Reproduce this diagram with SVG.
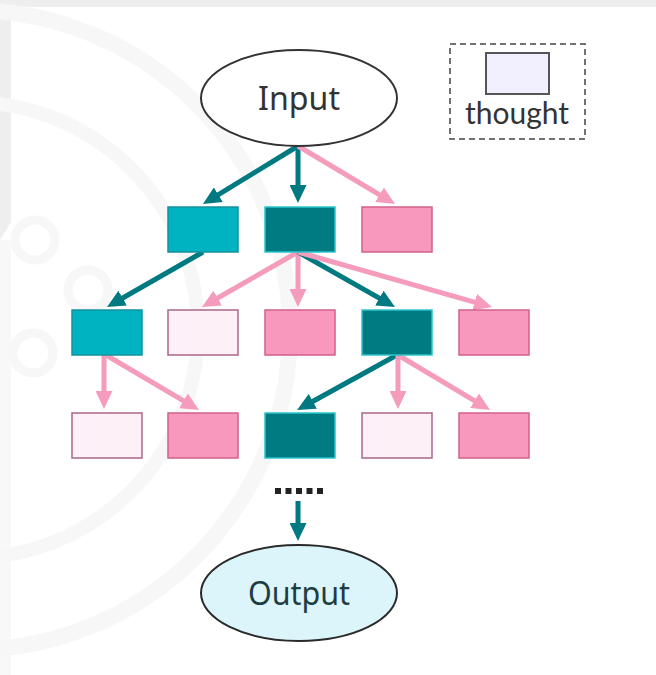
<svg xmlns="http://www.w3.org/2000/svg" width="656" height="675" viewBox="0 0 656 675">
  <style>
    .teal-line { stroke: #007a80; stroke-width: 5; fill: none; }
    .pink-line { stroke: #f59bbb; stroke-width: 5; fill: none; }
    .box { stroke-width: 1.5; }
    .cyan { fill: #00b3c1; stroke: #14929c; }
    .dark { fill: #007b82; stroke: #2cc3cc; }
    .pink { fill: #f998bd; stroke: #d2608a; }
    .light { fill: #fdf0f7; stroke: #a9678a; }
    .label { font-family: "Noto Sans", "Open Sans", "DejaVu Sans", sans-serif; font-size: 33px; text-anchor: middle; }
    .deco { fill: none; stroke: #f7f7f8; }
  </style>
  <defs>
    <marker id="head-teal" markerUnits="userSpaceOnUse" markerWidth="18" markerHeight="17" refX="8" refY="8.5" orient="auto">
      <path d="M0,0 L18,8.5 L0,17 Z" fill="#007a80"/>
    </marker>
    <marker id="head-pink" markerUnits="userSpaceOnUse" markerWidth="18" markerHeight="17" refX="8" refY="8.5" orient="auto">
      <path d="M0,0 L18,8.5 L0,17 Z" fill="#f59bbb"/>
    </marker>
  </defs>

  <!-- page background with soft frame and faint decorative arcs -->
  <g id="background">
    <rect x="0" y="0" width="656" height="675" fill="#ffffff"/>
    <rect x="0" y="0" width="656" height="7" fill="#eeeeee"/>
    <path d="M0,7 H11 V222 L0,240 Z" fill="#eeeeee"/>
    <rect x="0" y="240" width="11" height="435" fill="#f8f8f8"/>
    <circle class="deco" cx="-30" cy="330" r="320" stroke-width="16"/>
    <circle class="deco" cx="-30" cy="330" r="228" stroke-width="14"/>
    <circle class="deco" cx="35" cy="240" r="20" stroke-width="9"/>
    <circle class="deco" cx="88" cy="290" r="20" stroke-width="9"/>
    <circle class="deco" cx="33" cy="353" r="20" stroke-width="9"/>
  </g>

  <!-- connectors -->
  <g id="connectors">
    <line class="teal-line" x1="298" y1="146" x2="211.5" y2="198.8" marker-end="url(#head-teal)"/>
    <line class="teal-line" x1="298" y1="146" x2="298" y2="193" marker-end="url(#head-teal)"/>
    <line class="pink-line" x1="298" y1="146" x2="386.4" y2="198.9" marker-end="url(#head-pink)"/>

    <line class="teal-line" x1="203" y1="252" x2="115.7" y2="302" marker-end="url(#head-teal)"/>
    <line class="pink-line" x1="298" y1="252" x2="210.7" y2="302" marker-end="url(#head-pink)"/>
    <line class="pink-line" x1="298" y1="252" x2="298" y2="297" marker-end="url(#head-pink)"/>
    <line class="teal-line" x1="298" y1="252" x2="386.3" y2="302.1" marker-end="url(#head-teal)"/>
    <line class="pink-line" x1="298" y1="252" x2="482.4" y2="304.3" marker-end="url(#head-pink)"/>

    <line class="pink-line" x1="104" y1="355" x2="104" y2="399" marker-end="url(#head-pink)"/>
    <line class="pink-line" x1="106" y1="355" x2="190.4" y2="404.9" marker-end="url(#head-pink)"/>
    <line class="teal-line" x1="397" y1="355" x2="305.8" y2="405.2" marker-end="url(#head-teal)"/>
    <line class="pink-line" x1="398" y1="355" x2="398" y2="399" marker-end="url(#head-pink)"/>
    <line class="pink-line" x1="398" y1="355" x2="481.4" y2="404.9" marker-end="url(#head-pink)"/>

    <line x1="275" y1="491" x2="323" y2="491" stroke="#222222" stroke-width="6" stroke-dasharray="6 4.5"/>
    <line class="teal-line" x1="298" y1="501" x2="298" y2="531" marker-end="url(#head-teal)"/>
  </g>

  <!-- start / end nodes -->
  <g id="input">
    <ellipse cx="299" cy="98" rx="98" ry="48" fill="#ffffff" stroke="#333333" stroke-width="2"/>
    <text class="label" x="299" y="110" fill="#333333" textLength="82" lengthAdjust="spacingAndGlyphs">Input</text>
  </g>
  <g id="output">
    <ellipse cx="299" cy="593" rx="98" ry="48" fill="#dcf5fa" stroke="#2a2a2a" stroke-width="2"/>
    <text class="label" x="299" y="605" fill="#1e3c42" textLength="102" lengthAdjust="spacingAndGlyphs">Output</text>
  </g>

  <!-- thoughts, level 1 -->
  <g id="t1a"><rect class="box cyan" x="168" y="207" width="70" height="45"/></g>
  <g id="t1b"><rect class="box dark" x="265" y="207" width="70" height="45"/></g>
  <g id="t1c"><rect class="box pink" x="362" y="207" width="70" height="45"/></g>

  <!-- thoughts, level 2 -->
  <g id="t2a"><rect class="box cyan" x="72" y="310" width="70" height="45"/></g>
  <g id="t2b"><rect class="box light" x="168" y="310" width="70" height="45"/></g>
  <g id="t2c"><rect class="box pink" x="265" y="310" width="70" height="45"/></g>
  <g id="t2d"><rect class="box dark" x="362" y="310" width="70" height="45"/></g>
  <g id="t2e"><rect class="box pink" x="459" y="310" width="70" height="45"/></g>

  <!-- thoughts, level 3 -->
  <g id="t3a"><rect class="box light" x="72" y="413" width="70" height="45"/></g>
  <g id="t3b"><rect class="box pink" x="168" y="413" width="70" height="45"/></g>
  <g id="t3c"><rect class="box dark" x="265" y="413" width="70" height="45"/></g>
  <g id="t3d"><rect class="box light" x="362" y="413" width="70" height="45"/></g>
  <g id="t3e"><rect class="box pink" x="459" y="413" width="70" height="45"/></g>

  <!-- legend -->
  <g id="legend">
    <rect x="450" y="44" width="135" height="95" fill="none" stroke="#444444" stroke-width="1.5" stroke-dasharray="6 4"/>
    <rect x="486" y="53" width="63" height="41" fill="#f2f0ff" stroke="#555555" stroke-width="2"/>
    <text x="517" y="124" font-family="Lato, 'Noto Sans', sans-serif" font-size="30" fill="#333333" text-anchor="middle">thought</text>
  </g>
</svg>
